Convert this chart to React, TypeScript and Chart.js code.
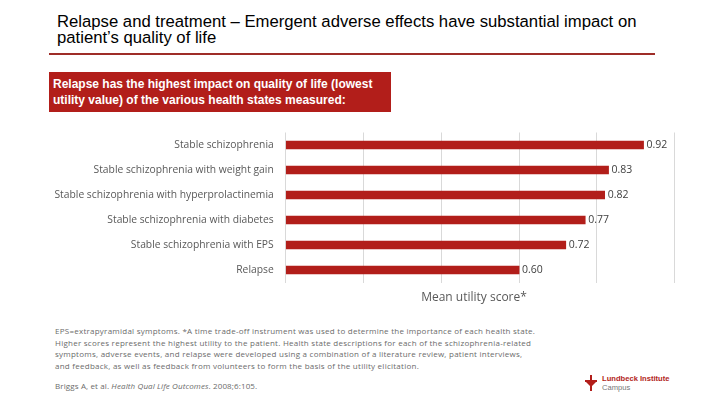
import React, { useEffect, useRef } from "react";
import { Chart, registerables } from "chart.js";

Chart.register(...registerables);

const titleLines = [
  "Relapse and treatment \u2013 Emergent adverse effects have substantial impact on",
  "patient\u2019s quality of life",
];
const boxLines = [
  "Relapse has the highest impact on quality of life (lowest",
  "utility value) of the various health states measured:",
];
const categories = [
  "Stable schizophrenia",
  "Stable schizophrenia with weight gain",
  "Stable schizophrenia with hyperprolactinemia",
  "Stable schizophrenia with diabetes",
  "Stable schizophrenia with EPS",
  "Relapse",
];
const utilityValues = [0.92, 0.83, 0.82, 0.77, 0.72, 0.6];
const axisMin = 0;
const axisMax = 1;
const axisStep = 0.2;
const axisTitle = "Mean utility score*";
const footnoteLines = [
  "EPS=extrapyramidal symptoms. *A time trade-off instrument was used to determine the importance of each health state.",
  "Higher scores represent the highest utility to the patient. Health state descriptions for each of the schizophrenia-related",
  "symptoms, adverse events, and relapse were developed using a combination of a literature review, patient interviews,",
  "and feedback, as well as feedback from volunteers to form the basis of the utility elicitation.",
];
const citationStart = "Briggs A, et al. ";
const citationJournal = "Health Qual Life Outcomes";
const citationEnd = ". 2008;6:105.";

const RED = "#B21E1A";

const valueLabelPlugin = {
  id: "valueLabels",
  afterDatasetsDraw(chart: any) {
    const ctx = chart.ctx;
    const meta = chart.getDatasetMeta(0);
    const data = chart.data.datasets[0].data as number[];
    ctx.save();
    ctx.font = "10.5px 'Open Sans'";
    ctx.fillStyle = "#404040";
    ctx.textAlign = "left";
    ctx.textBaseline = "middle";
    meta.data.forEach((bar: any, i: number) => {
      ctx.fillText(data[i].toFixed(2), bar.x + 3, bar.y);
    });
    ctx.restore();
  },
};

function BarChart() {
  const ref = useRef<HTMLCanvasElement | null>(null);
  useEffect(() => {
    if (!ref.current) return;
    const chart = new Chart(ref.current, {
      type: "bar",
      data: {
        labels: categories,
        datasets: [
          {
            data: utilityValues,
            backgroundColor: RED,
            borderWidth: 0,
            barThickness: 8,
          },
        ],
      },
      options: {
        indexAxis: "y",
        animation: false,
        responsive: true,
        maintainAspectRatio: false,
        layout: { padding: { top: 10.5, bottom: 9.5, left: 0, right: 45.3 } },
        plugins: {
          legend: { display: false },
          tooltip: { enabled: false },
          title: { display: false },
        },
        scales: {
          x: {
            min: axisMin,
            max: axisMax,
            ticks: { display: false, stepSize: axisStep },
            grid: { color: "#d9d9d9", lineWidth: 1, drawTicks: false },
            border: { display: false },
            afterFit: (s: any) => {
              s.height = 0;
              s.paddingLeft = 0;
              s.paddingRight = 0;
              s.paddingTop = 0;
              s.paddingBottom = 0;
            },
          },
          y: {
            ticks: {
              color: "#595959",
              font: { family: "'Open Sans'", size: 10.3 },
              padding: 12,
              autoSkip: false,
            },
            grid: { display: false, drawTicks: false },
            border: { display: false },
            afterFit: (s: any) => {
              s.width = 285.7;
              s.paddingLeft = 0;
              s.paddingRight = 0;
              s.paddingTop = 0;
              s.paddingBottom = 0;
            },
          },
        },
      },
      plugins: [valueLabelPlugin],
    });
    return () => chart.destroy();
  }, []);
  return (
    <div style={{ position: "absolute", left: 0, top: 121.5, width: 720, height: 170 }}>
      <canvas ref={ref} />
    </div>
  );
}

export default function App() {
  return (
    <div
      style={{
        position: "absolute",
        left: 0,
        top: 0,
        width: 720,
        height: 405,
        overflow: "hidden",
        background: "#fff",
      }}
    >
      <div
        style={{
          position: "absolute",
          left: 57,
          top: 13.5,
          fontFamily: "'Liberation Sans', Arial, sans-serif",
          fontSize: 16.7,
          lineHeight: "16.5px",
          color: "#000",
          whiteSpace: "nowrap",
        }}
      >
        {titleLines.map((l, i) => (
          <div key={i}>{l}</div>
        ))}
      </div>
      <div
        style={{
          position: "absolute",
          left: 49,
          top: 52.5,
          width: 606,
          height: 2.5,
          background: "#9E2D28",
        }}
      />
      <div
        style={{
          position: "absolute",
          left: 49,
          top: 72,
          width: 342,
          height: 40,
          background: RED,
        }}
      />
      <div
        style={{
          position: "absolute",
          left: 53,
          top: 77,
          fontFamily: "'Liberation Sans', Arial, sans-serif",
          fontWeight: "bold",
          fontSize: 12,
          lineHeight: "15.5px",
          color: "#fff",
          whiteSpace: "nowrap",
        }}
      >
        {boxLines.map((l, i) => (
          <div key={i}>{l}</div>
        ))}
      </div>
      <BarChart />
      <div
        style={{
          position: "absolute",
          left: 374,
          width: 200,
          top: 289,
          textAlign: "center",
          fontFamily: "'Open Sans', sans-serif",
          fontSize: 12,
          lineHeight: "16px",
          color: "#595959",
          whiteSpace: "nowrap",
        }}
      >
        {axisTitle}
      </div>
      <div
        style={{
          position: "absolute",
          left: 55,
          top: 325,
          fontFamily: "'Open Sans', sans-serif",
          fontSize: 8,
          letterSpacing: "0.25px",
          lineHeight: "11.5px",
          color: "#6b6b6b",
          whiteSpace: "nowrap",
        }}
      >
        {footnoteLines.map((l, i) => (
          <div key={i}>{l}</div>
        ))}
      </div>
      <div
        style={{
          position: "absolute",
          left: 55,
          top: 380,
          fontFamily: "'Open Sans', sans-serif",
          fontSize: 8,
          letterSpacing: "0.12px",
          lineHeight: "11.5px",
          color: "#6b6b6b",
          whiteSpace: "nowrap",
        }}
      >
        {citationStart}
        <i>{citationJournal}</i>
        {citationEnd}
      </div>
      <svg
        style={{ position: "absolute", left: 584, top: 375 }}
        width={14}
        height={16}
        viewBox="0 0 14 16"
      >
        <rect x={6} y={0} width={2} height={16} fill={RED} />
        <rect x={1} y={5} width={12} height={2} fill={RED} />
        <polygon points="2,7 12,7 7,12" fill={RED} />
      </svg>
      <div
        style={{
          position: "absolute",
          left: 602,
          top: 373.5,
          fontFamily: "'Liberation Sans', Arial, sans-serif",
          fontSize: 7.6,
          lineHeight: "9.5px",
          whiteSpace: "nowrap",
        }}
      >
        <div style={{ color: RED, fontWeight: "bold" }}>Lundbeck Institute</div>
        <div style={{ color: "#777" }}>Campus</div>
      </div>
    </div>
  );
}
